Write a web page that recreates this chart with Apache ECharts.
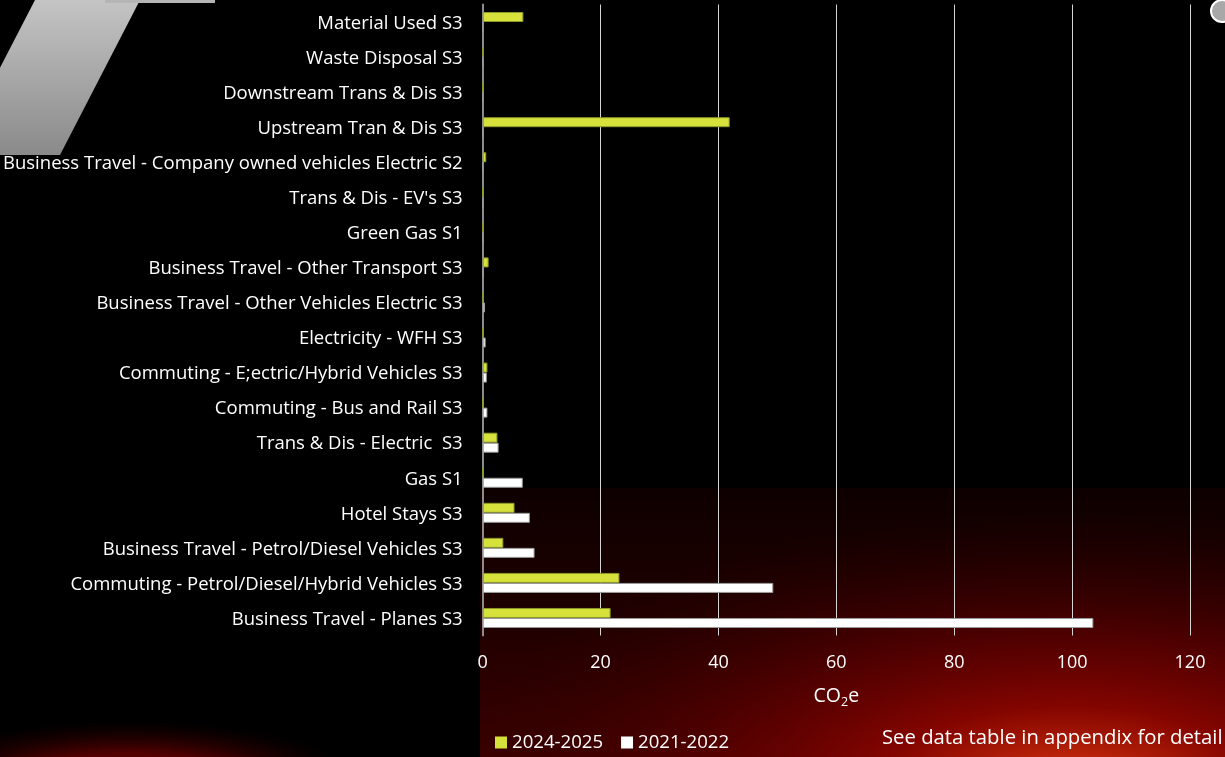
<!DOCTYPE html>
<html><head><meta charset="utf-8">
<script src="https://cdn.jsdelivr.net/npm/echarts@6/dist/echarts.min.js"></script>
<style>html,body{margin:0;padding:0;background:#000;}#c{width:1225px;height:757px;}</style>
</head><body><div id="c"></div>
<script>
const categories = [
  "Material Used S3",
  "Waste Disposal S3",
  "Downstream Trans & Dis S3",
  "Upstream Tran & Dis S3",
  "Business Travel - Company owned vehicles Electric S2",
  "Trans & Dis - EV's S3",
  "Green Gas S1",
  "Business Travel - Other Transport S3",
  "Business Travel - Other Vehicles Electric S3",
  "Electricity - WFH S3",
  "Commuting - E;ectric/Hybrid Vehicles S3",
  "Commuting - Bus and Rail S3",
  "Trans & Dis - Electric  S3",
  "Gas S1",
  "Hotel Stays S3",
  "Business Travel - Petrol/Diesel Vehicles S3",
  "Commuting - Petrol/Diesel/Hybrid Vehicles S3",
  "Business Travel - Planes S3"
];
const series2024 = [6.9, 0.05, 0, 41.9, 0.6, 0.05, 0, 1.0, 0.05, 0, 0.8, 0.05, 2.5, 0, 5.4, 3.5, 23.2, 21.7];
const series2021 = [0, 0, 0, 0, 0, 0, 0, 0.1, 0.4, 0.5, 0.7, 0.8, 2.7, 6.8, 8.0, 8.8, 49.3, 103.6];
const seriesNames = ["2024-2025", "2021-2022"];
const xTicks = [0, 20, 40, 60, 80, 100, 120];

const FONT = "Open Sans";
const chart = echarts.init(document.getElementById('c'), null, {renderer: 'canvas'});
chart.setOption({
  backgroundColor: '#000',
  animation: false,
  textStyle: {fontFamily: FONT},
  graphic: [
    {type: 'rect', z: -10, silent: true, shape: {x: 480, y: 488, width: 745, height: 269},
     style: {fill: {type: 'linear', x: 0, y: 0, x2: 0, y2: 1, colorStops: [
       {offset: 0, color: '#0e0000'}, {offset: 0.5, color: '#200000'}, {offset: 1, color: '#3a0000'}]}}},
    {type: 'circle', z: -9, silent: true, x: 1070, y: 790, scaleX: 2.3, scaleY: 1,
     shape: {cx: 0, cy: 0, r: 280},
     style: {fill: {type: 'radial', x: 0.5, y: 0.5, r: 0.5, colorStops: [
       {offset: 0, color: 'rgba(238,95,30,1)'}, {offset: 0.1, color: 'rgba(192,40,10,1)'},
       {offset: 0.3, color: 'rgba(140,5,0,0.9)'}, {offset: 0.6, color: 'rgba(95,0,0,0.6)'}, {offset: 1, color: 'rgba(45,0,0,0)'}]}}},
    {type: 'rect', z: -9, silent: true, shape: {x: 0, y: 488, width: 480, height: 269}, style: {fill: '#000'}},
    {type: 'circle', z: -8, silent: true, x: 130, y: 785, scaleX: 3.6, scaleY: 1,
     shape: {cx: 0, cy: 0, r: 65},
     style: {fill: {type: 'radial', x: 0.5, y: 0.5, r: 0.5, colorStops: [
       {offset: 0, color: 'rgba(140,0,0,1)'}, {offset: 0.5, color: 'rgba(100,0,0,0.8)'}, {offset: 1, color: 'rgba(40,0,0,0)'}]}}},
    {type: 'polygon', z: -8, silent: true, shape: {points: [[35, 0], [140, 0], [60, 155], [-45, 155]]},
     style: {fill: {type: 'linear', x: 0, y: 0, x2: 0, y2: 1, colorStops: [
       {offset: 0, color: '#c4c4c4'}, {offset: 1, color: '#8a8a8a'}]}}},
    {type: 'rect', z: -8, silent: true, shape: {x: 105, y: 0, width: 110, height: 3}, style: {fill: '#b5b5b5'}},
    {type: 'circle', z: -8, silent: true, shape: {cx: 1222, cy: 11, r: 11}, style: {fill: '#a8a8a8', stroke: '#ffffff', lineWidth: 2}},
    {type: 'text', left: 882, top: 728, silent: true,
     style: {text: 'See data table in appendix for detail', fill: '#ffffff', font: '20.3px "Open Sans"'}}
  ],
  legend: {
    left: 490, top: 728,
    itemWidth: 12, itemHeight: 12, itemGap: 18,
    icon: 'rect',
    itemStyle: {borderWidth: 0},
    textStyle: {color: '#ffffff', fontSize: 18.6, fontFamily: FONT},
    data: seriesNames
  },
  grid: {left: 482, right: 35, top: 4.5, bottom: 121.5, containLabel: false},
  xAxis: {
    type: 'value', min: 0, max: 120, interval: 20,
    name: 'CO{s|2}e', nameLocation: 'middle', nameGap: 49,
    nameTextStyle: {color: '#ffffff', fontSize: 19.5, fontFamily: FONT,
      rich: {s: {fontSize: 12.5, color: '#ffffff', fontFamily: FONT, padding: [11, 0, 0, 0]}}},
    axisLine: {show: false}, axisTick: {show: false},
    axisLabel: {color: '#ffffff', fontSize: 18, margin: 18, fontFamily: FONT,
      formatter: v => xTicks.indexOf(v) >= 0 ? String(v) : ''},
    splitLine: {show: true, lineStyle: {color: '#d4d4d4', width: 1}}
  },
  yAxis: {
    type: 'category', inverse: true, data: categories,
    axisLine: {show: true, lineStyle: {color: '#8c8c8c', width: 2}},
    axisTick: {show: false},
    axisLabel: {margin: 20,
      formatter: v => '{a|' + v + '}',
      rich: {a: {color: '#ffffff', fontSize: 18.5, fontFamily: FONT, padding: [3, 0, 0, 0]}}}
  },
  series: [
    {name: seriesNames[0], type: 'bar', data: series2024, barWidth: 10, barGap: '0%',
     itemStyle: {color: '#d6e13c', borderColor: '#8e9a2a', borderWidth: 1}},
    {name: seriesNames[1], type: 'bar', data: series2021, barWidth: 10, barGap: '0%',
     itemStyle: {color: '#ffffff', borderColor: '#9a9a9a', borderWidth: 1}}
  ]
});
</script></body></html>
